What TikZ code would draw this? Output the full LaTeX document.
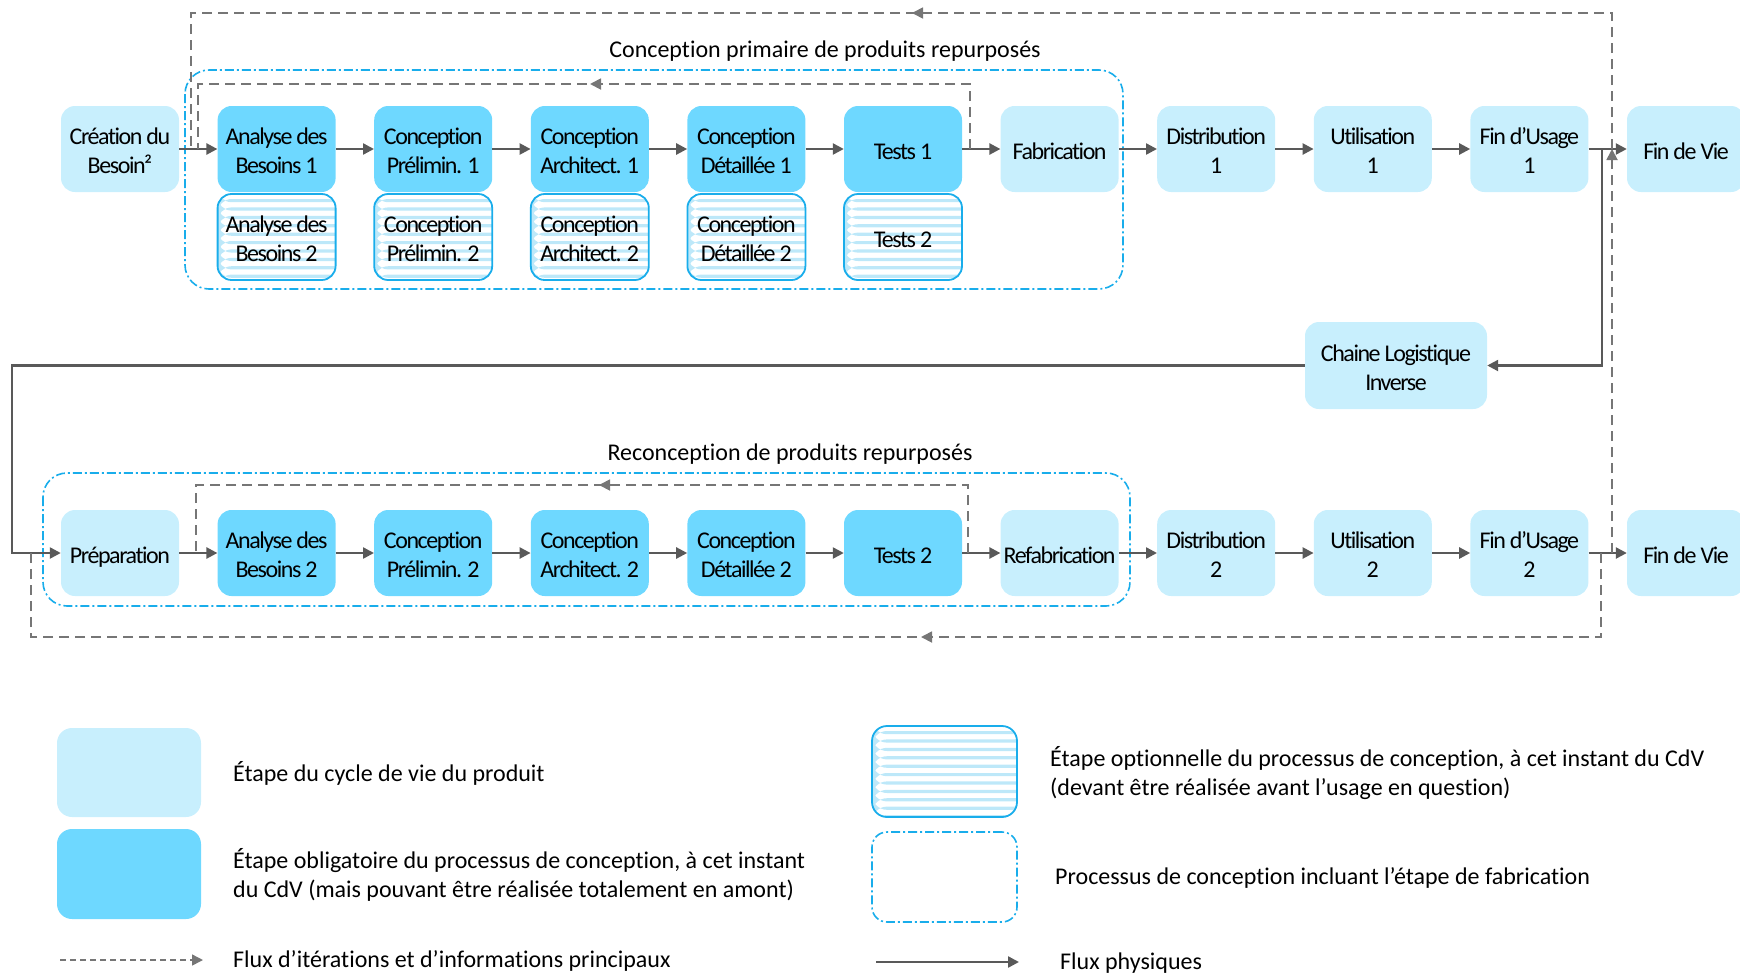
\documentclass[tikz,border=0pt]{standalone}
\usepackage{fontspec}
\setmainfont{Carlito}[Ligatures=CommonOff]
\newfontfamily\boxfnt[LetterSpace=-6,Ligatures=CommonOff]{Carlito}
\usetikzlibrary{arrows.meta,decorations.markings}
\definecolor{lightc}{HTML}{C8EFFD}
\definecolor{darkc}{HTML}{6ED8FF}
\definecolor{cyanb}{HTML}{19ADEB}
\definecolor{stripec}{HTML}{BDE8F9}
\definecolor{arrc}{HTML}{595959}
\definecolor{dshc}{HTML}{767676}
\newcommand\bt[1]{\raisebox{-4.5pt}[\height][\depth]{\begin{tabular}{@{}c@{}}#1\end{tabular}}}
\begin{document}
\begin{tikzpicture}[x=1pt,y=-1pt,
  every node/.style={inner sep=0pt},
  stage/.style={rounded corners=14pt, minimum width=118pt, minimum height=86pt, align=center, font=\boxfnt\fontsize{24}{29}\selectfont, text=black},
  lstage/.style={stage, fill=lightc},
  dstage/.style={stage, fill=darkc},
  ostage/.style={stage, draw=cyanb, line width=1.8pt, path picture={\foreach \k in {0,...,11}{\fill[stripec] ([yshift=-5pt-\k*8.4pt]path picture bounding box.north west) rectangle ++(200pt,-3.2pt);}}},
  flow/.style={draw=arrc, line width=2.4pt, -{Triangle[length=11pt,width=11pt]}},
  iter/.style={draw=dshc, line width=1.8pt, dash pattern=on 10pt off 6pt},
  iterarrow/.style={postaction={decorate}, decoration={markings, mark=at position #1 with {\arrow[dshc]{Triangle[length=11pt,width=11pt]}}}},
  frame/.style={draw=cyanb, line width=1.6pt, rounded corners=24pt, dash pattern=on 9pt off 3pt on 2pt off 3pt},
  ttl/.style={font=\fontsize{24}{29}\selectfont},
  leg/.style={font=\fontsize{24}{29}\selectfont, anchor=west, align=left}
]
\useasboundingbox (0,0) rectangle (1740,975);

% frames
\draw[frame] (185,70) rectangle (1123,289);
\draw[frame] (43,473) rectangle (1130,606);

% titles
\node[ttl] (t1) at (825,51) {Conception primaire de produits repurposés};
\node[ttl] (t2) at (790,454.5) {Reconception de produits repurposés};

% row 1
\node[lstage] (cb) at (120,149) {\bt{Création du\\Besoin²}};
\node[dstage] (ab1) at (276.6,149) {\bt{Analyse des\\Besoins 1}};
\node[dstage] (cp1) at (433.2,149) {\bt{Conception\\Prélimin. 1}};
\node[dstage] (ca1) at (589.8,149) {\bt{Conception\\Architect. 1}};
\node[dstage] (cd1) at (746.4,149) {\bt{Conception\\Détaillée 1}};
\node[dstage] (te1) at (903,149) {\bt{Tests 1}};
\node[lstage] (fab) at (1059.6,149) {\bt{Fabrication}};
\node[lstage] (di1) at (1216.2,149) {\bt{Distribution\\1}};
\node[lstage] (ut1) at (1372.8,149) {\bt{Utilisation\\1}};
\node[lstage] (fu1) at (1529.4,149) {\bt{Fin d’Usage\\1}};
\node[lstage] (fv1) at (1686,149) {\bt{Fin de Vie}};

% optional row
\node[ostage] (ab1o) at (276.6,237) {\bt{Analyse des\\Besoins 2}};
\node[ostage] (cp1o) at (433.2,237) {\bt{Conception\\Prélimin. 2}};
\node[ostage] (ca1o) at (589.8,237) {\bt{Conception\\Architect. 2}};
\node[ostage] (cd1o) at (746.4,237) {\bt{Conception\\Détaillée 2}};
\node[ostage] (te1o) at (903,237) {\bt{Tests 2}};

% reverse logistics
\node[lstage, minimum width=182pt, minimum height=87pt] (ch) at (1396,365.5) {\bt{Chaine Logistique\\Inverse}};

% row 2
\node[lstage] (prep) at (120,553) {\bt{Préparation}};
\node[dstage] (ab2) at (276.6,553) {\bt{Analyse des\\Besoins 2}};
\node[dstage] (cp2) at (433.2,553) {\bt{Conception\\Prélimin. 2}};
\node[dstage] (ca2) at (589.8,553) {\bt{Conception\\Architect. 2}};
\node[dstage] (cd2) at (746.4,553) {\bt{Conception\\Détaillée 2}};
\node[dstage] (te2) at (903,553) {\bt{Tests 2}};
\node[lstage] (rfab) at (1059.6,553) {\bt{Refabrication}};
\node[lstage] (di2) at (1216.2,553) {\bt{Distribution\\2}};
\node[lstage] (ut2) at (1372.8,553) {\bt{Utilisation\\2}};
\node[lstage] (fu2) at (1529.4,553) {\bt{Fin d’Usage\\2}};
\node[lstage] (fv2) at (1686,553) {\bt{Fin de Vie}};

% physical flows
\foreach \a/\b in {cb/ab1,ab1/cp1,cp1/ca1,ca1/cd1,cd1/te1,te1/fab,fab/di1,di1/ut1,ut1/fu1,fu1/fv1,
                   prep/ab2,ab2/cp2,cp2/ca2,ca2/cd2,cd2/te2,te2/rfab,rfab/di2,di2/ut2,ut2/fu2,fu2/fv2}
  \draw[flow] (\a) -- (\b);
\coordinate (j1) at (1602,149);
\draw[flow] (j1) |- (ch.east);
\coordinate (lc) at (12,365.5);
\draw[flow] (ch.west) -- (lc) |- (prep.west);

% iteration flows
\coordinate (r1a) at (970,149);
\coordinate (r1b) at (198,149);
\draw[iter, iterarrow=445pt] (r1a) -- (970,84) -- (198,84) -- (r1b);
\coordinate (up2) at (1612,553);
\coordinate (up1) at (1612,149);
\coordinate (o1) at (191,149);
\draw[iter, -{Triangle[length=11pt,width=11pt]}] (up2) -- (up1);
\draw[iter, iterarrow=836pt] (up1) -- (1612,13) -- (191,13) -- (o1);
\coordinate (r2a) at (968,553);
\coordinate (r2b) at (196,553);
\draw[iter, iterarrow=437pt] (r2a) -- (968,485) -- (196,485) -- (r2b);
\coordinate (b2a) at (1601,553);
\coordinate (b2b) at (31,553);
\draw[iter, iterarrow=764pt] (b2a) -- (1601,637) -- (31,637) -- (b2b);

% legend
\node[lstage, minimum width=144pt, minimum height=89pt, rounded corners=15pt] (lg1) at (129,772.5) {};
\node[dstage, minimum width=144pt, minimum height=90pt, rounded corners=15pt] (lg2) at (129,874) {};
\node[ostage, minimum width=145pt, minimum height=91pt, rounded corners=15pt] (lg3) at (944.5,771.5) {};
\node[draw=cyanb, line width=1.6pt, rounded corners=15pt, dash pattern=on 9pt off 3pt on 2pt off 3pt, minimum width=145pt, minimum height=90pt] (lg4) at (944.5,877) {};
\coordinate (la1) at (60,960);
\coordinate (la2) at (203,960);
\draw[draw=dshc, line width=1.5pt, dash pattern=on 6pt off 4pt, -{Triangle[length=11pt,width=11pt]}] (la1) -- (la2);
\coordinate (lb1) at (876,962);
\coordinate (lb2) at (1019,962);
\draw[flow] (lb1) -- (lb2);

\node[leg] (tx1) at (233,773) {Étape du cycle de vie du produit};
\node[leg] (tx2) at (233,874.5) {Étape obligatoire du processus de conception, à cet instant\\du CdV (mais pouvant être réalisée totalement en amont)};
\node[leg] (tx3) at (233,961) {Flux d’itérations et d’informations principaux};
\node[leg] (tx4) at (1050,773.5) {Étape optionnelle du processus de conception, à cet instant du CdV\\(devant être réalisée avant l’usage en question)};
\node[leg] (tx5) at (1055,878) {Processus de conception incluant l’étape de fabrication};
\node[leg] (tx6) at (1060,963) {Flux physiques};
\end{tikzpicture}
\end{document}
